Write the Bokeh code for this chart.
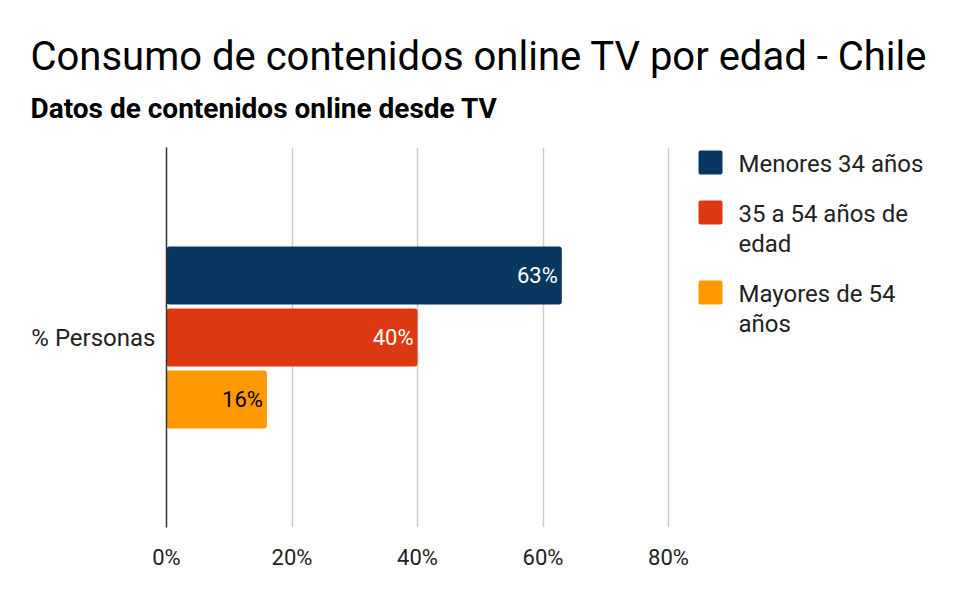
from bokeh.plotting import figure
from bokeh.layouts import column, row
from bokeh.models import (FactorRange, Range1d, NumeralTickFormatter,
                          FixedTicker, ColumnDataSource)
from bokeh.core.properties import value
from bokeh.transform import dodge
from bokeh.embed import file_html
from bokeh.resources import INLINE

# ---- data ----
category = ["% Personas"]
series_names = ["Menores 34 años", "35 a 54 años de\nedad", "Mayores de 54\naños"]
values = [0.63, 0.40, 0.16]
value_labels = ["63%", "40%", "16%"]
colors = ["#08375f", "#dc3912", "#ff9900"]
label_colors = ["#ffffff", "#ffffff", "#000000"]
x_ticks = [0, 0.2, 0.4, 0.6, 0.8]
title_text = "Consumo de contenidos online TV por edad - Chile"
subtitle_text = "Datos de contenidos online desde TV"

FONT = "Roboto"
W, H = 958, 586
TOP_H = 147          # height of title strip
MAIN_W = 694         # width of chart figure
FL, FR = 166, 671    # frame left / right
FB = 527             # frame bottom (overall)
BOT_H = H - TOP_H
X_END = 0.8 * (FR - FL) / (668 - FL)   # 80% gridline sits at x=668


def blank(width, height, bottom_border=0):
    f = figure(width=width, height=height, output_backend="svg",
               toolbar_location=None, x_range=Range1d(0, width),
               y_range=Range1d(height - bottom_border, 0), min_border=0,
               min_border_bottom=bottom_border)
    f.axis.visible = False
    f.grid.visible = False
    f.outline_line_color = None
    return f


# ---- title strip ----
top = blank(W, TOP_H)
top.text(x=[30], y=[56], text=[title_text], text_font=value(FONT),
         text_font_size="40px", text_color="#000000",
         text_baseline="middle", text_align="left")
top.text(x=[30], y=[108], text=[subtitle_text], text_font=value(FONT),
         text_font_size="28px", text_font_style="bold", text_color="#000000",
         text_baseline="middle", text_align="left")

# ---- main chart ----
p = figure(width=MAIN_W, height=BOT_H, output_backend="svg",
           toolbar_location=None,
           y_range=FactorRange(*category, range_padding=0),
           x_range=Range1d(0, X_END),
           min_border_left=FL, min_border_right=MAIN_W - FR,
           min_border_top=0, min_border_bottom=H - FB)
p.outline_line_color = None

offsets = [0.163, 0.0, -0.163]
for i in range(3):
    src = ColumnDataSource(dict(cat=category, v=[values[i]],
                                lab=[value_labels[i]]))
    ydodge = dodge("cat", offsets[i], range=p.y_range)
    p.hbar(y=ydodge, right="v", left=0, height=0.1526, source=src,
           fill_color=colors[i], line_color=None, border_radius=3)
    p.text(x="v", y=ydodge, text="lab", source=src, text_align="right",
           text_baseline="middle", x_offset=-4, text_font=value(FONT),
           text_font_size="22px", text_color=label_colors[i])

p.xaxis.ticker = FixedTicker(ticks=x_ticks)
p.xaxis.formatter = NumeralTickFormatter(format="0%")
p.xaxis.axis_line_color = None
p.xaxis.major_tick_line_color = None
p.xaxis.major_tick_out = 0
p.xaxis.major_tick_in = 0
p.xaxis.minor_tick_line_color = None
p.xaxis.major_label_text_font = FONT
p.xaxis.major_label_text_font_size = "22px"
p.xaxis.major_label_text_color = "#222222"
p.xaxis.major_label_standoff = 17

p.yaxis.axis_line_color = "#333333"
p.yaxis.axis_line_width = 1.5
p.yaxis.major_tick_line_color = None
p.yaxis.major_tick_out = 0
p.yaxis.major_tick_in = 0
p.yaxis.minor_tick_line_color = None
p.yaxis.major_label_text_font = FONT
p.yaxis.major_label_text_font_size = "24px"
p.yaxis.major_label_text_color = "#222222"
p.yaxis.major_label_standoff = 11
p.yaxis.major_label_orientation = "horizontal"

p.xgrid.grid_line_color = "#cccccc"
p.xgrid.grid_line_width = 1.5
p.ygrid.grid_line_color = None

# ---- legend ----
LEG_W = W - MAIN_W
leg = blank(LEG_W, BOT_H, bottom_border=H - FB)
sq_tops = [150, 200, 280]
for i, name in enumerate(series_names):
    t = sq_tops[i] - TOP_H
    leg.quad(left=[698 - MAIN_W], right=[722 - MAIN_W], top=[t], bottom=[t + 24],
             fill_color=colors[i], line_color=None, border_radius=2)
    for j, line in enumerate(name.split("\n")):
        leg.text(x=[738 - MAIN_W], y=[t + 13 + 30 * j], text=[line],
                 text_font=value(FONT), text_font_size="24px",
                 text_color="#222222", text_baseline="middle",
                 text_align="left")

layout = column(top, row(p, leg, spacing=0), spacing=0)
open("out.html", "w").write(file_html(layout, INLINE))
